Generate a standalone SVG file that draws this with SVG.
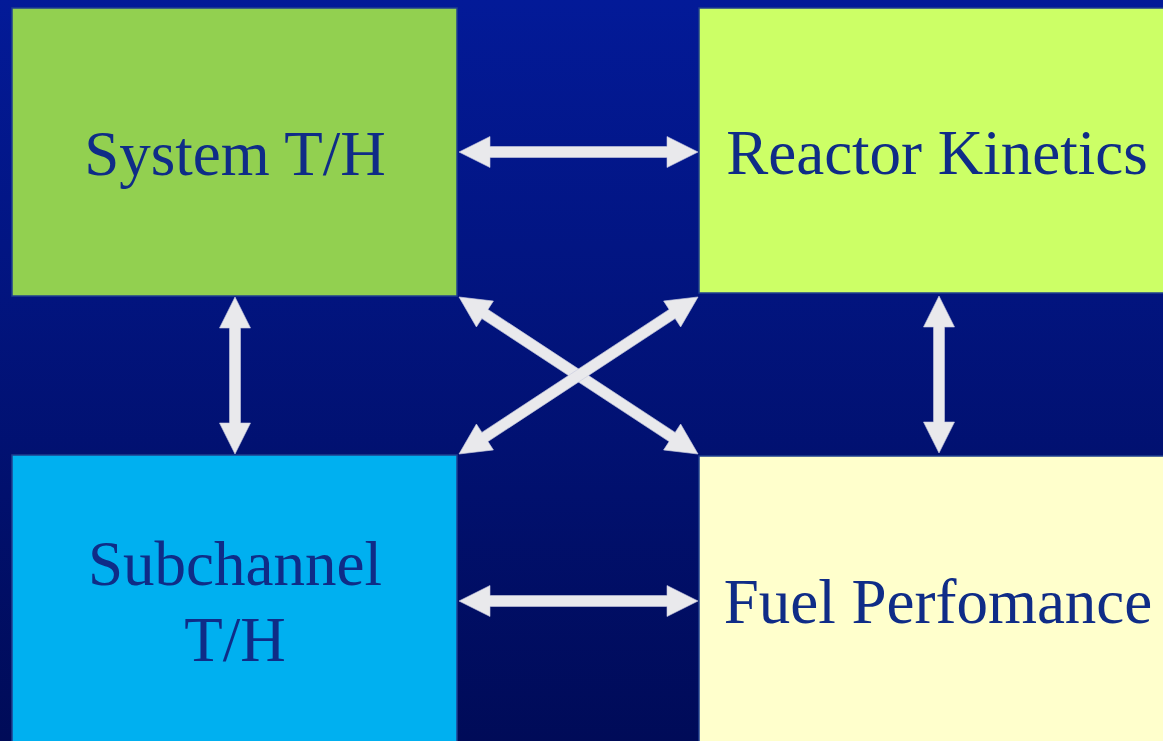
<svg xmlns="http://www.w3.org/2000/svg" width="1163" height="741" viewBox="0 0 1163 741">
  <defs>
    <linearGradient id="bg" x1="0" y1="0" x2="0" y2="1">
      <stop offset="0" stop-color="#031a98"/>
      <stop offset="1" stop-color="#000b58"/>
    </linearGradient>
    <polygon id="dbl157" points="0,0 31,-15.5 31,-5.5 126,-5.5 126,-15.5 157,0 126,15.5 126,5.5 31,5.5 31,15.5"/>
    <polygon id="dbl239" points="0,0 31,-15.5 31,-5.5 208,-5.5 208,-15.5 239,0 208,15.5 208,5.5 31,5.5 31,15.5"/>
    <polygon id="dbl286" points="0,0 31,-15.5 31,-5.5 255,-5.5 255,-15.5 286,0 255,15.5 255,5.5 31,5.5 31,15.5"/>
  </defs>
  <style>
    .box { stroke: #1f3f8f; stroke-width: 1.5; }
    .lbl { font-family: "Liberation Serif", "Times New Roman", serif; font-size: 63px; fill: #0f2c87; text-anchor: middle; }
    .arr { fill: #e9e9ec; stroke: #c9cbe0; stroke-width: 0.6; }
  </style>
  <rect x="0" y="0" width="1163" height="741" fill="url(#bg)"/>

  <g id="connectors">
    <use href="#dbl239" class="arr" transform="translate(459,152)"/>
    <use href="#dbl239" class="arr" transform="translate(459,601)"/>
    <use href="#dbl157" class="arr" transform="translate(235,297) rotate(90)"/>
    <use href="#dbl157" class="arr" transform="translate(939,296) rotate(90)"/>
    <use href="#dbl286" class="arr" transform="translate(459,297) rotate(33.3)"/>
    <use href="#dbl286" class="arr" transform="translate(459,454) rotate(-33.3)"/>
  </g>

  <g id="system-th">
    <rect class="box" x="12" y="8" width="445" height="288" fill="#92d050"/>
    <text class="lbl" x="235" y="175">System T/H</text>
  </g>
  <g id="reactor-kinetics">
    <rect class="box" x="699" y="8" width="480" height="285" fill="#ccff66"/>
    <text class="lbl" x="937" y="174">Reactor Kinetics</text>
  </g>
  <g id="subchannel-th">
    <rect class="box" x="12" y="455" width="445" height="300" fill="#00b0f0"/>
    <text class="lbl" x="235" y="585">Subchannel</text>
    <text class="lbl" x="235" y="661">T/H</text>
  </g>
  <g id="fuel-performance">
    <rect class="box" x="699" y="456" width="480" height="300" fill="#ffffcc"/>
    <text class="lbl" x="938" y="623">Fuel Perfomance</text>
  </g>
</svg>
